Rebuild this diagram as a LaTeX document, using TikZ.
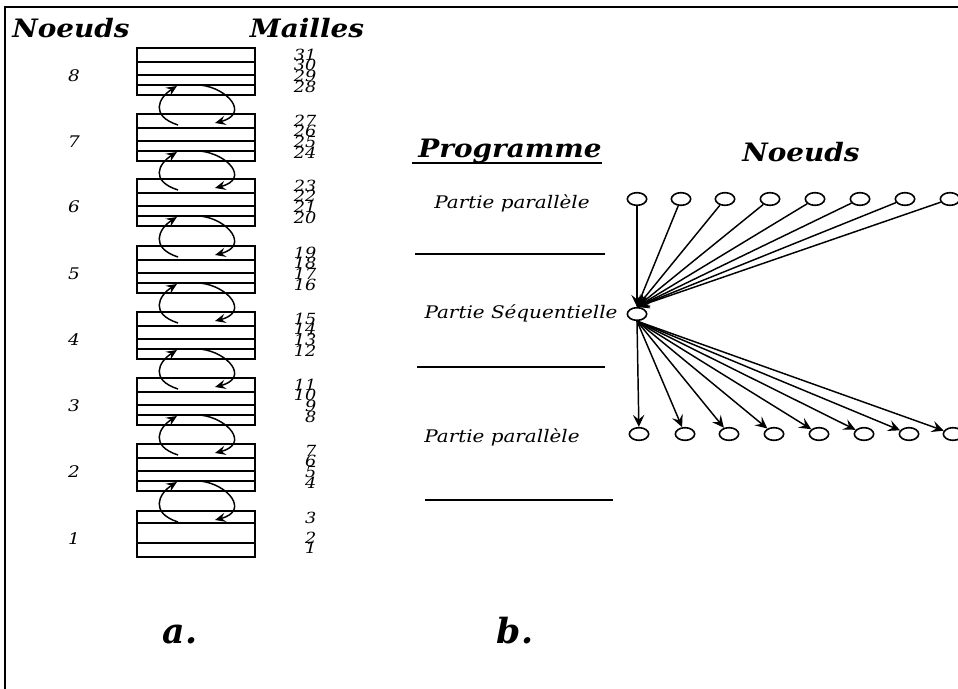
\documentclass[tikz,border=0pt]{standalone}
\usepackage{fontspec}
\newfontfamily\hdfont[FakeStretch=1.1]{DejaVu Serif}
\newfontfamily\labfont{DejaVu Serif}
\newfontfamily\smfont[FakeStretch=1.15]{DejaVu Serif}
\usetikzlibrary{arrows.meta,shapes.geometric}
\begin{document}
\begin{tikzpicture}[x=0.75pt,y=-0.75pt,line width=1.1pt,
  hd/.style={font=\hdfont\bfseries\itshape\fontsize{19}{22}\selectfont,inner sep=0,anchor=base},
  lab/.style={font=\labfont\bfseries\itshape\fontsize{26}{30}\selectfont,inner sep=0,anchor=base},
  sm/.style={font=\smfont\itshape\fontsize{13}{15}\selectfont,inner sep=0,anchor=base},
  num/.style={font=\smfont\itshape\fontsize{11.5}{12}\selectfont,inner sep=0,anchor=base east},
  nnum/.style={font=\smfont\itshape\fontsize{12}{14}\selectfont,inner sep=0},
  nd/.style={ellipse,draw,line width=1.2pt,minimum width=14.5pt,minimum height=9.5pt,inner sep=0},
  arr/.style={-{Stealth[length=9pt,width=8.5pt,inset=3.5pt]}},
  carr/.style={-{Stealth[length=8pt,width=7pt,inset=3pt]}},
  rule/.style={line width=1.1pt}]
\useasboundingbox (0,0) rectangle (958,689);
% frame
\draw[line width=1.5pt] (5,689) -- (5,7) -- (958,7);
% ---------- part a ----------
\node[hd] (hN) at (71,37) {Noeuds};
\node[hd] (hM) at (307,37) {Mailles};
\foreach \k/\T in {8/48,7/114,6/179,5/246,4/312,3/378,2/444}{
  \draw (137,\T) rectangle (255,\T+47);
  \draw (137,\T+14) -- (255,\T+14);
  \draw (137,\T+27) -- (255,\T+27);
  \draw (137,\T+37) -- (255,\T+37);
  \node[nnum] (n\k) at (74,\T+28) {\k};
  \pgfmathtruncatemacro\ma{4*\k-1}
  \pgfmathtruncatemacro\mb{4*\k-2}
  \pgfmathtruncatemacro\mc{4*\k-3}
  \pgfmathtruncatemacro\md{4*\k-4}
  \node[num] (m\ma) at (317,\T+12) {\ma};
  \node[num] (m\mb) at (317,\T+22.5) {\mb};
  \node[num] (m\mc) at (317,\T+33.5) {\mc};
  \node[num] (m\md) at (317,\T+44.5) {\md};
}
% box 1
\draw (137,511) rectangle (255,557);
\draw (137,523) -- (255,523);
\draw (137,543) -- (255,543);
\node[nnum] (n1) at (74,539) {1};
\node[num] (m3) at (317,523) {3};
\node[num] (m2) at (317,543) {2};
\node[num] (m1) at (317,553) {1};
% exchange arcs
\foreach \u/\l in {48/114,114/179,179/246,246/312,312/378,378/444,444/511}{
  \coordinate (ls\u) at (178,\l+11);
  \coordinate (le\u) at (177,\u+38);
  \coordinate (rs\u) at (200,\u+37);
  \coordinate (re\u) at (215,\l+9);
  \draw[carr] (ls\u) .. controls (150,\l+2) and (158,\u+50) .. (le\u);
  \draw[carr] (rs\u) .. controls (228,\u+40) and (250,\l) .. (re\u);
}
\node[lab] (la) at (180,643) {a.};
% ---------- part b ----------
\node[hd] (hP) at (510,157) {Programme};
\draw (412,163) -- (602,163);
\node[hd] (hN2) at (801,161) {Noeuds};
\node[sm] (p1) at (512,208) {Partie parallèle};
\node[sm] (ps) at (521,318) {Partie Séquentielle};
\node[sm] (p2) at (502,442) {Partie parallèle};
\draw[rule] (415,254) -- (605,254);
\draw[rule] (417,367) -- (605,367);
\draw[rule] (425,500) -- (613,500);
\node[nd] (s) at (637,314) {};
\foreach \i/\x in {1/637,2/681,3/725,4/770,5/815,6/860,7/905,8/950}{
  \node[nd] (t\i) at (\x,199) {};
  \draw[arr] (t\i) -- (s.north);
}
\foreach \i/\x in {1/639,2/685,3/729,4/774,5/819,6/864,7/909,8/953}{
  \node[nd] (b\i) at (\x,434) {};
  \draw[arr] (s.south) -- (b\i);
}
\node[lab] (lb) at (515,643) {b.};
\end{tikzpicture}
\end{document}
